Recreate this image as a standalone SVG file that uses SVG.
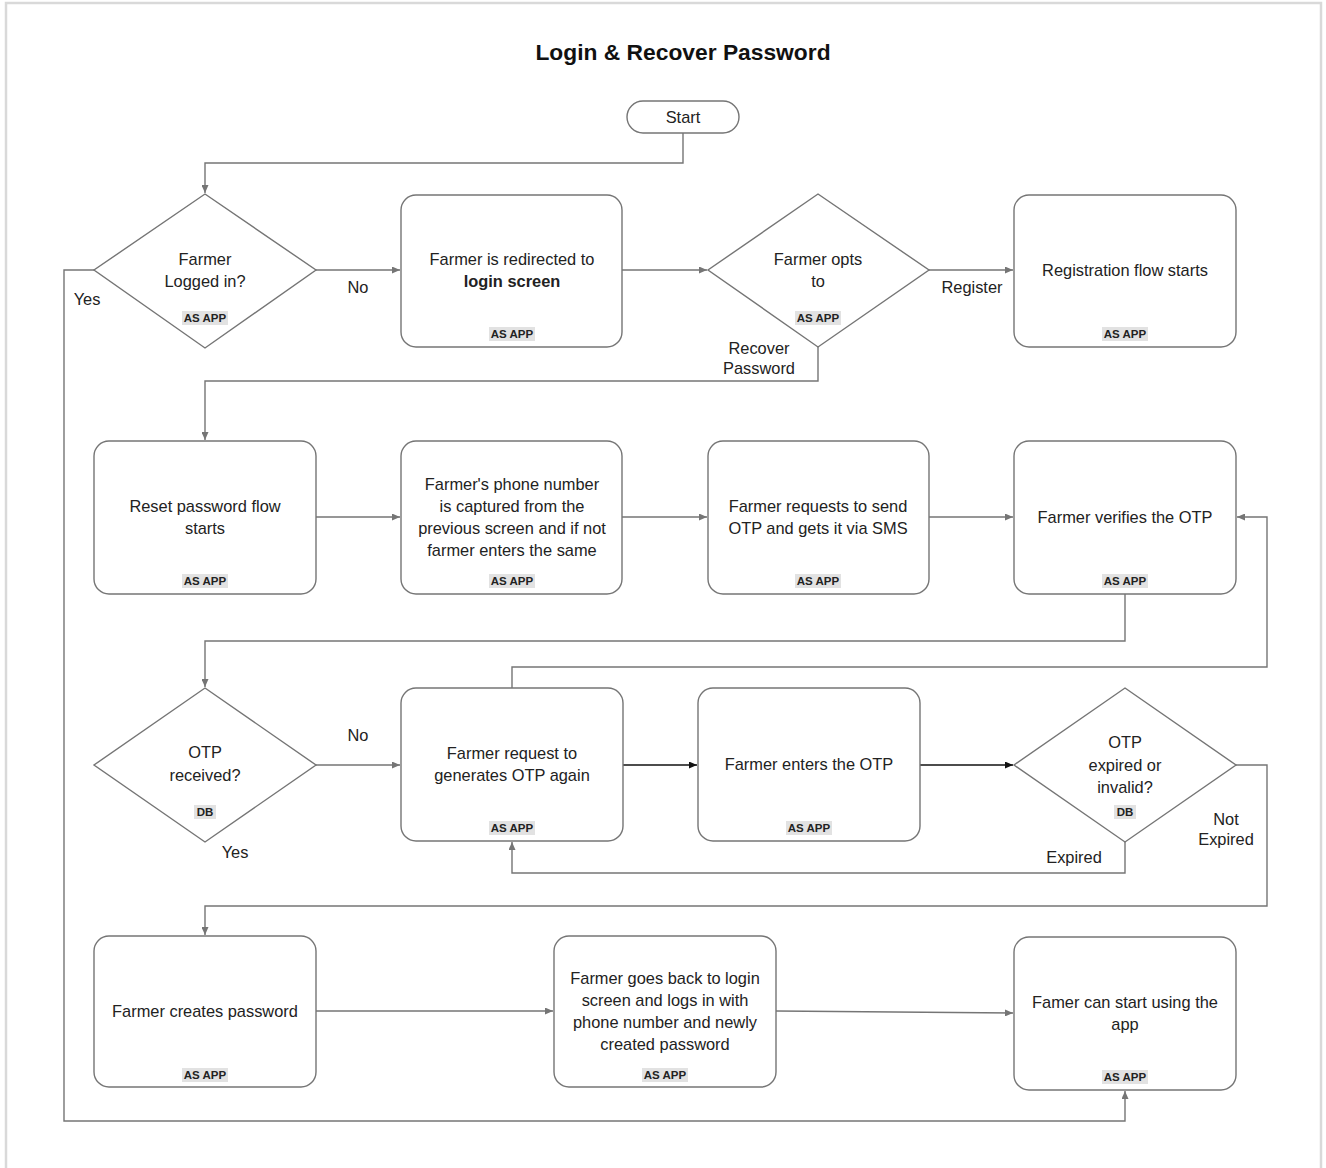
<svg xmlns="http://www.w3.org/2000/svg" width="1326" height="1168" viewBox="0 0 1326 1168">
<style>
.n{fill:#fff;stroke:#757575;stroke-width:1.4}
.t{font-family:"Liberation Sans",Arial,sans-serif;font-size:16.4px;fill:#222;text-anchor:middle}
.b{font-weight:bold}
.tag{font-family:"Liberation Sans",Arial,sans-serif;font-size:11.5px;font-weight:bold;fill:#222;text-anchor:middle}
.tb{fill:#e2e2e2}
.c{fill:none;stroke:#757575;stroke-width:1.4}
.k{fill:none;stroke:#111;stroke-width:1.4}
.lbl{font-family:"Liberation Sans",Arial,sans-serif;font-size:16.4px;fill:#222;text-anchor:middle}
</style>
<defs>
<marker id="a" markerUnits="userSpaceOnUse" markerWidth="8" markerHeight="7" refX="8" refY="3.5" orient="auto"><path d="M0,0 L8,3.5 L0,7 z" fill="#757575"/></marker>
<marker id="ak" markerUnits="userSpaceOnUse" markerWidth="8" markerHeight="7" refX="8" refY="3.5" orient="auto"><path d="M0,0 L8,3.5 L0,7 z" fill="#111"/></marker>
</defs>
<rect x="0" y="0" width="1326" height="1168" fill="#fff"/>
<rect x="6" y="3" width="1315" height="1175" fill="none" stroke="#d9d9d9" stroke-width="2.5"/>
<text x="683" y="60" class="t b" style="font-size:22.8px;fill:#111">Login &amp; Recover Password</text>

<g id="connectors">
<path class="c" d="M683,133 V163 H205 V193" marker-end="url(#a)"/>
<path class="c" d="M316,270 H400" marker-end="url(#a)"/>
<path class="c" d="M622,270 H707" marker-end="url(#a)"/>
<path class="c" d="M929,270 H1013" marker-end="url(#a)"/>
<path class="c" d="M818,347 V381 H205 V440" marker-end="url(#a)"/>
<path class="c" d="M94,270 H64 V1121 H1125 V1091" marker-end="url(#a)"/>
<path class="c" d="M316,517 H400" marker-end="url(#a)"/>
<path class="c" d="M622,517 H707" marker-end="url(#a)"/>
<path class="c" d="M929,517 H1013" marker-end="url(#a)"/>
<path class="c" d="M1125,594 V641 H205 V687" marker-end="url(#a)"/>
<path class="c" d="M316,765 H400" marker-end="url(#a)"/>
<path class="k" d="M623,765 H697" marker-end="url(#ak)"/>
<path class="k" d="M920,765 H1013" marker-end="url(#ak)"/>
<path class="c" d="M512,688 V667 H1267 V517 H1237" marker-end="url(#a)"/>
<path class="c" d="M1125,842 V873 H512 V842" marker-end="url(#a)"/>
<path class="c" d="M1236,765 H1267 V906 H205 V935" marker-end="url(#a)"/>
<path class="c" d="M316,1011 H553" marker-end="url(#a)"/>
<path class="c" d="M776,1011 L1013,1013" marker-end="url(#a)"/>
<text class="lbl" x="358" y="293">No</text>
<text class="lbl" x="972" y="293">Register</text>
<text class="lbl" x="759" y="354">Recover</text>
<text class="lbl" x="759" y="374">Password</text>
<text class="lbl" x="87" y="305">Yes</text>
<text class="lbl" x="358" y="741">No</text>
<text class="lbl" x="235" y="858">Yes</text>
<text class="lbl" x="1074" y="863">Expired</text>
<text class="lbl" x="1226" y="825">Not</text>
<text class="lbl" x="1226" y="845">Expired</text>
</g>

<g id="start">
<rect class="n" x="627" y="101" width="112" height="32" rx="16"/>
<text class="t" x="683" y="123">Start</text>
</g>

<g id="logged-in">
<polygon class="n" points="205,194 316,270 205,348 94,270"/>
<text class="t" x="205" y="265">Farmer</text>
<text class="t" x="205" y="287">Logged in?</text>
<rect class="tb" x="182" y="311" width="46" height="14"/>
<text class="tag" x="205" y="322">AS APP</text>
</g>

<g id="redirect-login">
<rect class="n" x="401" y="195" width="221" height="152" rx="15"/>
<text class="t" x="512" y="265">Farmer is redirected to</text>
<text class="t b" x="512" y="287">login screen</text>
<rect class="tb" x="489" y="327" width="46" height="14"/>
<text class="tag" x="512" y="338">AS APP</text>
</g>

<g id="opts">
<polygon class="n" points="818,194 929,270 818,347 708,270"/>
<text class="t" x="818" y="265">Farmer opts</text>
<text class="t" x="818" y="287">to</text>
<rect class="tb" x="795" y="311" width="46" height="14"/>
<text class="tag" x="818" y="322">AS APP</text>
</g>

<g id="registration">
<rect class="n" x="1014" y="195" width="222" height="152" rx="15"/>
<text class="t" x="1125" y="276">Registration flow starts</text>
<rect class="tb" x="1102" y="327" width="46" height="14"/>
<text class="tag" x="1125" y="338">AS APP</text>
</g>

<g id="reset">
<rect class="n" x="94" y="441" width="222" height="153" rx="15"/>
<text class="t" x="205" y="512">Reset password flow</text>
<text class="t" x="205" y="534">starts</text>
<rect class="tb" x="182" y="574" width="46" height="14"/>
<text class="tag" x="205" y="585">AS APP</text>
</g>

<g id="phone">
<rect class="n" x="401" y="441" width="221" height="153" rx="15"/>
<text class="t" x="512" y="490">Farmer's phone number</text>
<text class="t" x="512" y="512">is captured from the</text>
<text class="t" x="512" y="534">previous screen and if not</text>
<text class="t" x="512" y="556">farmer enters the same</text>
<rect class="tb" x="489" y="574" width="46" height="14"/>
<text class="tag" x="512" y="585">AS APP</text>
</g>

<g id="request-otp">
<rect class="n" x="708" y="441" width="221" height="153" rx="15"/>
<text class="t" x="818" y="512">Farmer requests to send</text>
<text class="t" x="818" y="534">OTP and gets it via SMS</text>
<rect class="tb" x="795" y="574" width="46" height="14"/>
<text class="tag" x="818" y="585">AS APP</text>
</g>

<g id="verify">
<rect class="n" x="1014" y="441" width="222" height="153" rx="15"/>
<text class="t" x="1125" y="523">Farmer verifies the OTP</text>
<rect class="tb" x="1102" y="574" width="46" height="14"/>
<text class="tag" x="1125" y="585">AS APP</text>
</g>

<g id="otp-received">
<polygon class="n" points="205,688 316,765 205,842 94,765"/>
<text class="t" x="205" y="758">OTP</text>
<text class="t" x="205" y="781">received?</text>
<rect class="tb" x="194" y="805" width="22" height="14"/>
<text class="tag" x="205" y="816">DB</text>
</g>

<g id="regenerate">
<rect class="n" x="401" y="688" width="222" height="153" rx="15"/>
<text class="t" x="512" y="759">Farmer request to</text>
<text class="t" x="512" y="781">generates OTP again</text>
<rect class="tb" x="489" y="821" width="46" height="14"/>
<text class="tag" x="512" y="832">AS APP</text>
</g>

<g id="enter-otp">
<rect class="n" x="698" y="688" width="222" height="153" rx="15"/>
<text class="t" x="809" y="770">Farmer enters the OTP</text>
<rect class="tb" x="786" y="821" width="46" height="14"/>
<text class="tag" x="809" y="832">AS APP</text>
</g>

<g id="otp-expired">
<polygon class="n" points="1125,688 1236,765 1125,842 1014,765"/>
<text class="t" x="1125" y="748">OTP</text>
<text class="t" x="1125" y="771">expired or</text>
<text class="t" x="1125" y="793">invalid?</text>
<rect class="tb" x="1114" y="805" width="22" height="14"/>
<text class="tag" x="1125" y="816">DB</text>
</g>

<g id="create-password">
<rect class="n" x="94" y="936" width="222" height="151" rx="15"/>
<text class="t" x="205" y="1017">Farmer creates password</text>
<rect class="tb" x="182" y="1068" width="46" height="14"/>
<text class="tag" x="205" y="1079">AS APP</text>
</g>

<g id="login-again">
<rect class="n" x="554" y="936" width="222" height="151" rx="15"/>
<text class="t" x="665" y="984">Farmer goes back to login</text>
<text class="t" x="665" y="1006">screen and logs in with</text>
<text class="t" x="665" y="1028">phone number and newly</text>
<text class="t" x="665" y="1050">created password</text>
<rect class="tb" x="642" y="1068" width="46" height="14"/>
<text class="tag" x="665" y="1079">AS APP</text>
</g>

<g id="use-app">
<rect class="n" x="1014" y="937" width="222" height="153" rx="15"/>
<text class="t" x="1125" y="1008">Famer can start using the</text>
<text class="t" x="1125" y="1030">app</text>
<rect class="tb" x="1102" y="1070" width="46" height="14"/>
<text class="tag" x="1125" y="1081">AS APP</text>
</g>
</svg>
